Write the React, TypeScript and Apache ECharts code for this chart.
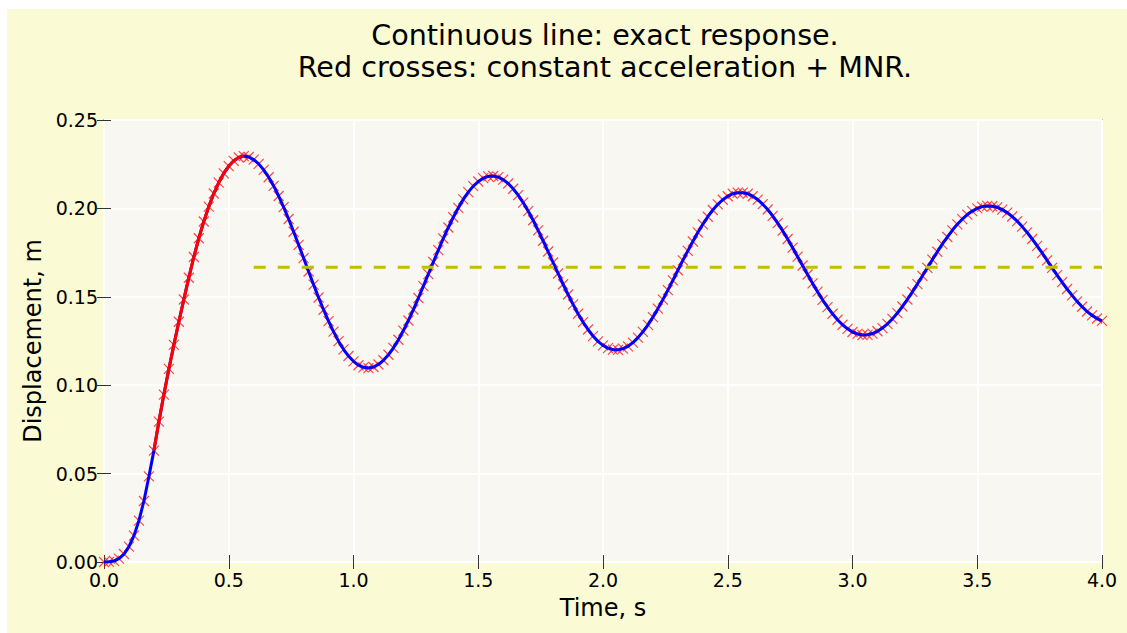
import React, { useEffect, useRef } from "react";
import * as echarts from "echarts";

// Displacement of the SDOF system (m), sampled every 0.02 s from t = 0 to t = 4 s.
const timeStep = 0.02;
const displacement = [
  0.0, 0.0001, 0.0006, 0.0019, 0.0045, 0.0087, 0.0149, 0.0234, 0.0345, 0.0484,
  0.063, 0.0794, 0.0947, 0.1092, 0.1228, 0.1359, 0.1485, 0.1608, 0.1725, 0.1831,
  0.1926, 0.201, 0.2084, 0.2146, 0.2198, 0.2239, 0.2269, 0.2288, 0.2296, 0.2291,
  0.2276, 0.2252, 0.2218, 0.2176, 0.2127, 0.207, 0.2007, 0.194, 0.1868, 0.1794,
  0.1719, 0.1643, 0.1569, 0.1496, 0.1427, 0.1362, 0.1303, 0.1249, 0.1203, 0.1165,
  0.1135, 0.1113, 0.1101, 0.1097, 0.1103, 0.1117, 0.1141, 0.1172, 0.1211, 0.1257,
  0.1309, 0.1366, 0.1428, 0.1493, 0.156, 0.1628, 0.1697, 0.1764, 0.183, 0.1892,
  0.195, 0.2003, 0.2051, 0.2092, 0.2126, 0.2152, 0.2171, 0.2181, 0.2183, 0.2177,
  0.2163, 0.2141, 0.2111, 0.2075, 0.2033, 0.1985, 0.1933, 0.1876, 0.1817, 0.1756,
  0.1694, 0.1632, 0.1571, 0.1513, 0.1457, 0.1404, 0.1357, 0.1315, 0.1278, 0.1248,
  0.1225, 0.121, 0.1201, 0.12, 0.1207, 0.122, 0.1241, 0.1269, 0.1302, 0.1341,
  0.1385, 0.1433, 0.1484, 0.1538, 0.1593, 0.165, 0.1706, 0.176, 0.1813, 0.1864,
  0.191, 0.1953, 0.1991, 0.2023, 0.2049, 0.2069, 0.2083, 0.2089, 0.2089, 0.2083,
  0.2069, 0.205, 0.2024, 0.1994, 0.1958, 0.1917, 0.1874, 0.1827, 0.1778, 0.1727,
  0.1677, 0.1626, 0.1576, 0.1529, 0.1483, 0.1442, 0.1404, 0.137, 0.1342, 0.1319,
  0.1301, 0.129, 0.1284, 0.1285, 0.1292, 0.1305, 0.1323, 0.1347, 0.1375, 0.1408,
  0.1445, 0.1485, 0.1528, 0.1572, 0.1618, 0.1664, 0.171, 0.1755, 0.1798, 0.1838,
  0.1876, 0.191, 0.1939, 0.1965, 0.1985, 0.2, 0.201, 0.2014, 0.2012, 0.2006,
  0.1993, 0.1976, 0.1954, 0.1928, 0.1897, 0.1864, 0.1827, 0.1788, 0.1748, 0.1706,
  0.1664, 0.1623, 0.1583, 0.1544, 0.1508, 0.1474, 0.1444, 0.1417, 0.1395, 0.1377,
  0.1364,
];
const time = displacement.map((_, i) => +(i * timeStep).toFixed(2));

// Index range of the plastic (yielding) branch, drawn in red.
const plasticStart = 10;
const plasticEnd = 28;

// Centre of the free elastic oscillations after yielding.
const centreTime = [0.6, 4.0];
const centreDisplacement = 0.1667;

const titleLines = [
  "Continuous line: exact response.",
  "Red crosses: constant acceleration + MNR.",
];

const FONT = "'DejaVu Sans', sans-serif";

export default function App() {
  const ref = useRef<HTMLDivElement>(null);

  useEffect(() => {
    if (!ref.current) return;
    const chart = echarts.init(ref.current, undefined, { renderer: "svg" });

    const points = time.map((t, i) => [t, displacement[i]]);
    const plastic = points.slice(plasticStart, plasticEnd + 1);
    const centre = centreTime.map((t) => [t, centreDisplacement]);

    const makeTick = () => ({
      show: true,
      inside: true,
      length: 7,
      lineStyle: { color: "#333333", width: 1 },
    });
    const xBase = { type: "value", min: 0, max: 4, interval: 0.5, gridIndex: 0 };
    const yBase = { type: "value", min: 0, max: 0.25, interval: 0.05, gridIndex: 0 };

    chart.setOption({
      animation: false,
      backgroundColor: "#fafad4",
      textStyle: { fontFamily: FONT },
      grid: {
        left: 97,
        top: 111,
        width: 998,
        height: 442,
        show: true,
        backgroundColor: "#f8f7f1",
        borderColor: "#bdbdbd",
        borderWidth: 2,
        z: 0,
      },
      graphic: titleLines.map((line, i) => ({
        type: "text",
        x: 598,
        y: 26 + i * 32,
        style: {
          text: line,
          font: `28.6px ${FONT}`,
          fill: "#000",
          textAlign: "center",
          textVerticalAlign: "middle",
        },
      })),
      xAxis: [
        {
          ...xBase,
          position: "bottom",
          name: "Time, s",
          nameLocation: "middle",
          nameGap: 34,
          nameTextStyle: { fontSize: 24, color: "#000", fontFamily: FONT },
          axisLine: { show: false },
          axisTick: makeTick(),
          axisLabel: {
            fontSize: 19,
            color: "#000",
            margin: 8,
            fontFamily: FONT,
            formatter: (v: number) => v.toFixed(1),
          },
          splitLine: { show: true, lineStyle: { color: "#ffffff", width: 2 } },
        },
        {
          ...xBase,
          position: "top",
          axisLine: { show: false },
          axisTick: makeTick(),
          axisLabel: { show: false },
          splitLine: { show: false },
        },
      ],
      yAxis: [
        {
          ...yBase,
          position: "left",
          name: "Displacement, m",
          nameLocation: "middle",
          nameGap: 58,
          nameTextStyle: { fontSize: 24, color: "#000", fontFamily: FONT },
          axisLine: { show: false },
          axisTick: makeTick(),
          axisLabel: {
            fontSize: 19,
            color: "#000",
            margin: 6,
            fontFamily: FONT,
            formatter: (v: number) => v.toFixed(2),
          },
          splitLine: { show: true, lineStyle: { color: "#ffffff", width: 2 } },
        },
        {
          ...yBase,
          position: "right",
          axisLine: { show: false },
          axisTick: makeTick(),
          axisLabel: { show: false },
          splitLine: { show: false },
        },
      ],
      series: [
        {
          name: "constant acceleration + MNR",
          type: "scatter",
          data: points,
          symbol: "path://M0 0L9 9M9 0L0 9",
          symbolSize: 10,
          itemStyle: { color: "transparent", borderColor: "#ff1a1a", borderWidth: 1.2 },
          z: 2,
          silent: true,
        },
        {
          name: "exact response",
          type: "line",
          data: points,
          showSymbol: false,
          symbol: "none",
          lineStyle: { color: "#0000ff", width: 3 },
          z: 3,
          silent: true,
        },
        {
          name: "exact response (yielding)",
          type: "line",
          data: plastic,
          showSymbol: false,
          symbol: "none",
          lineStyle: { color: "#ff0000", width: 3 },
          z: 4,
          silent: true,
        },
        {
          name: "oscillation centre",
          type: "line",
          data: centre,
          showSymbol: false,
          symbol: "none",
          lineStyle: { color: "#bfbf00", width: 3, type: [12, 12] },
          z: 5,
          silent: true,
        },
      ],
    });

    return () => chart.dispose();
  }, []);

  return (
    <div
      style={{
        position: "fixed",
        left: 0,
        top: 0,
        width: 1127,
        height: 633,
        background: "#ffffff",
        overflow: "hidden",
      }}
    >
      <div
        ref={ref}
        style={{ position: "absolute", left: 7, top: 9, width: 1120, height: 624 }}
      />
    </div>
  );
}
